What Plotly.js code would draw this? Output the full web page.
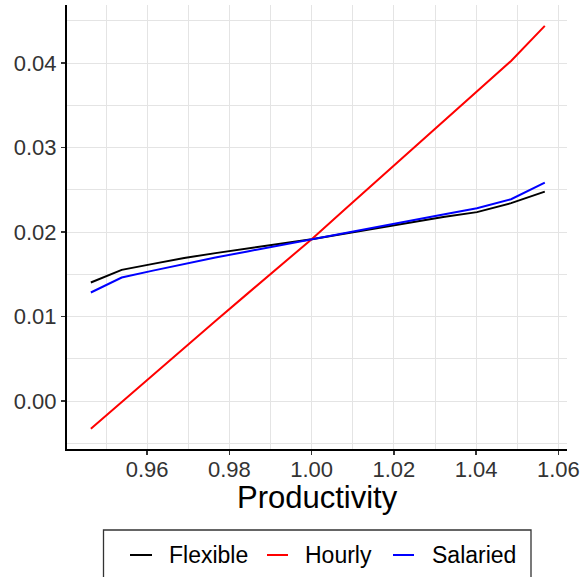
<!DOCTYPE html>
<html>
<head>
<meta charset="utf-8">
<script src="https://cdn.plot.ly/plotly-3.0.1.min.js"></script>
<style>html,body{margin:0;padding:0;background:#fff;}#chart{width:582px;height:577px;}</style>
</head>
<body>
<div id="chart"></div>
<script>
// Productivity grid (x values)
var productivity = [0.9463, 0.9538, 0.9614, 0.9690, 0.9766, 0.9844, 0.9922, 1.0000,
                    1.0079, 1.0159, 1.0239, 1.0320, 1.0402, 1.0485, 1.0567];
// Series values
var flexible = [0.01404, 0.01554, 0.01625, 0.01694, 0.01752, 0.01807, 0.01862, 0.01917,
                0.01982, 0.02048, 0.02115, 0.02180, 0.02237, 0.02343, 0.02480];
var hourly   = [-0.00325, -0.00008, 0.00307, 0.00626, 0.00949, 0.01273, 0.01599, 0.01917,
                0.02262, 0.02611, 0.02960, 0.03310, 0.03665, 0.04025, 0.04440];
var salaried = [0.01286, 0.01463, 0.01545, 0.01625, 0.01700, 0.01772, 0.01845, 0.01917,
                0.01990, 0.02064, 0.02140, 0.02210, 0.02283, 0.02390, 0.02586];
var seriesNames = ["Flexible", "Hourly", "Salaried"];
var seriesColors = ["#000000", "#ff0000", "#0000ff"];
var xTitle = "Productivity";

var font = "Liberation Sans, Arial, sans-serif";
var allY = [flexible, hourly, salaried];
var traces = allY.map(function (ys, i) {
  return {
    x: productivity, y: ys, type: "scatter", mode: "lines",
    name: seriesNames[i], line: {color: seriesColors[i], width: 2},
    showlegend: false
  };
});

// Legend drawn below the plot (paper coordinates)
var legY = -0.2387;
var legLineX = [[0.126, 0.170], [0.400, 0.442], [0.652, 0.694]];
var legTextX = [0.200, 0.472, 0.725];
var shapes = [{
  type: "rect", xref: "paper", yref: "paper",
  x0: 0.073, x1: 0.928, y0: -0.33, y1: -0.1824,
  line: {color: "#333333", width: 1.3}, fillcolor: "rgba(0,0,0,0)"
}];
var annotations = [{
  xref: "paper", yref: "paper", x: 0.5, y: -0.1085,
  xanchor: "center", yanchor: "middle", showarrow: false, text: xTitle,
  font: {family: font, size: 31, color: "#000"}
}];
seriesNames.forEach(function (n, i) {
  shapes.push({
    type: "line", xref: "paper", yref: "paper",
    x0: legLineX[i][0], x1: legLineX[i][1], y0: legY, y1: legY,
    line: {color: seriesColors[i], width: 2}
  });
  annotations.push({
    xref: "paper", yref: "paper", x: legTextX[i], y: legY,
    xanchor: "left", yanchor: "middle", showarrow: false, text: n,
    font: {family: font, size: 23, color: "#000"}
  });
});

var layout = {
  width: 582, height: 577,
  paper_bgcolor: "#ffffff", plot_bgcolor: "#ffffff",
  margin: {l: 67, r: 15, t: 5, b: 128, autoexpand: false},
  showlegend: false,
  shapes: shapes, annotations: annotations,
  xaxis: {
    range: [0.9405, 1.0621], tick0: 0, dtick: 0.02, tickformat: ".2f",
    showgrid: true, gridcolor: "#e4e4e4", gridwidth: 1,
    minor: {dtick: 0.01, showgrid: true, gridcolor: "#e4e4e4", gridwidth: 1},
    showline: true, linecolor: "#000", linewidth: 2,
    ticks: "outside", ticklen: 4, tickcolor: "#333", tickwidth: 1.5,
    tickfont: {family: font, size: 22, color: "#333"},
    ticklabelstandoff: -4,
    zeroline: false
  },
  yaxis: {
    range: [-0.00565, 0.04687], tick0: 0, dtick: 0.01, tickformat: ".2f",
    showgrid: true, gridcolor: "#e4e4e4", gridwidth: 1,
    minor: {dtick: 0.005, showgrid: true, gridcolor: "#e4e4e4", gridwidth: 1},
    showline: true, linecolor: "#000", linewidth: 2,
    ticks: "outside", ticklen: 4, tickcolor: "#333", tickwidth: 1.5,
    tickfont: {family: font, size: 22, color: "#333"},
    zeroline: false
  }
};

Plotly.newPlot("chart", traces, layout, {displayModeBar: false, staticPlot: true});
</script>
</body>
</html>
